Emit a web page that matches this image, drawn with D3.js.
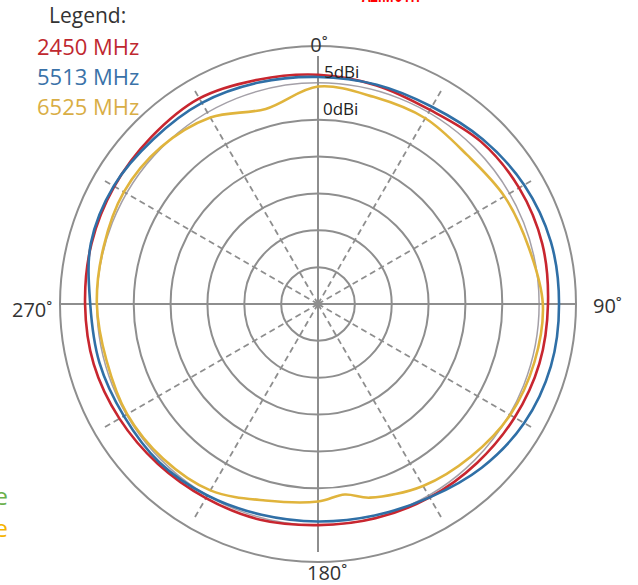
<!DOCTYPE html>
<html>
<head>
<meta charset="utf-8">
<script src="https://cdn.jsdelivr.net/npm/d3@7"></script>
<style>
  body { margin: 0; background: #fff; }
  svg text { font-family: "Open Sans", sans-serif; }
</style>
</head>
<body>
<div id="chart"></div>
<script>
// gain in dBi, angle in degrees clockwise from top
const anglesRed = [0, 15, 30, 45, 60, 75, 90, 105, 120, 135, 150, 165, 180, 195, 210, 225, 240, 255, 270, 285, 300, 315, 330, 345];
const gainRed = [6.1, 5.7, 5.4, 6.2, 6.5, 6.5, 6.2, 6.1, 5.8, 5.5, 5.3, 5.1, 5.0, 5.3, 5.4, 5.7, 6.1, 6.5, 6.6, 6.8, 6.9, 7.0, 7.2, 6.5];

const anglesBlue = [0, 15, 30, 45, 60, 75, 90, 105, 120, 135, 150, 165, 180, 195, 210, 225, 240, 255, 270, 285, 300, 315, 330, 345];
const gainBlue = [5.8, 5.8, 5.9, 6.6, 7.3, 7.7, 7.7, 7.7, 7.3, 6.4, 5.3, 4.7, 4.5, 4.6, 5.0, 5.4, 5.4, 5.7, 5.9, 6.9, 7.0, 6.6, 6.5, 6.1];

const anglesYellow = [0, 15, 30, 45, 60, 75, 90, 105, 120, 135, 150, 165, 172, 180, 195, 210, 225, 240, 255, 270, 285, 300, 315, 330, 345];
const gainYellow = [4.5, 4.1, 4.1, 3.6, 4.2, 4.6, 5.5, 5.4, 5.1, 4.3, 3.5, 2.2, 1.1, 1.8, 2.6, 4.2, 4.7, 4.9, 4.7, 5.0, 5.1, 5.4, 5.1, 4.2, 2.4];

const seriesNames = ["2450 MHz", "5513 MHz", "6525 MHz"];
const seriesColors = ["#c8262f", "#2f6fa6", "#e0b43c"];
const legendColors = ["#c0282f", "#3a72a8", "#d9ae45"];

const ringLevels = [-20, -15, -10, -5, 0, 5, 10];
const spokeAngles = [30, 60, 120, 150, 210, 240, 300, 330];
const axisLabels = [
  { text: "0˚", x: 319, y: 52, anchor: "middle" },
  { text: "90˚", x: 593, y: 313, anchor: "start" },
  { text: "180˚", x: 307, y: 580, anchor: "start" },
  { text: "270˚", x: 12, y: 317, anchor: "start" }
];

const width = 638, height = 585;
const cx = 318, cy = 304;

const svg = d3.select("#chart").append("svg")
  .attr("width", width)
  .attr("height", height);

const r = d3.scaleLinear().domain([-25, 10]).range([0, 258]);

const g = svg.append("g").attr("transform", `translate(${cx},${cy})`);

// rings
g.selectAll("circle.ring")
  .data(ringLevels)
  .join("circle")
  .attr("class", "ring")
  .attr("r", d => r(d))
  .attr("fill", "none")
  .attr("stroke", d => d === 5 ? "#a4a0a8" : "#8e8e8e")
  .attr("stroke-width", d => d === 5 ? 1.5 : 2);

// dashed spokes
g.selectAll("line.spoke")
  .data(spokeAngles)
  .join("line")
  .attr("class", "spoke")
  .attr("x1", 0).attr("y1", 0)
  .attr("x2", d => Math.sin(d * Math.PI / 180) * 250)
  .attr("y2", d => -Math.cos(d * Math.PI / 180) * 250)
  .attr("stroke", "#8e8e8e")
  .attr("stroke-width", 1.8)
  .attr("stroke-dasharray", "6,4");

// main axes
g.append("line")
  .attr("x1", -r(10)).attr("x2", r(10)).attr("y1", 0).attr("y2", 0)
  .attr("stroke", "#8e8e8e").attr("stroke-width", 2);
g.append("line")
  .attr("x1", 0).attr("x2", 0).attr("y1", -248).attr("y2", 248)
  .attr("stroke", "#8e8e8e").attr("stroke-width", 2);

// curves
const line = d3.lineRadial()
  .angle(d => d[0] * Math.PI / 180)
  .radius(d => r(d[1]))
  .curve(d3.curveCatmullRomClosed.alpha(0.5));

const series = [
  d3.zip(anglesRed, gainRed),
  d3.zip(anglesBlue, gainBlue),
  d3.zip(anglesYellow, gainYellow)
];

g.selectAll("path.curve")
  .data(series)
  .join("path")
  .attr("class", "curve")
  .attr("d", d => line(d))
  .attr("fill", "none")
  .attr("stroke", (d, i) => seriesColors[i])
  .attr("stroke-width", 2.6);

// dBi labels
g.append("text").text("5dBi")
  .attr("x", 6).attr("y", 78 - cy)
  .style("font-size", "17px").style("fill", "#222");
g.append("text").text("0dBi")
  .attr("x", 5).attr("y", 115 - cy)
  .style("font-size", "17px").style("fill", "#222");

// angle labels
svg.selectAll("text.axis")
  .data(axisLabels)
  .join("text")
  .attr("class", "axis")
  .attr("x", d => d.x)
  .attr("y", d => d.y)
  .attr("text-anchor", d => d.anchor)
  .style("font-size", "20px")
  .style("fill", "#333")
  .text(d => d.text);

// legend
svg.append("text").text("Legend:")
  .attr("x", 49).attr("y", 23)
  .style("font-size", "21px").style("fill", "#333");

svg.selectAll("text.leg")
  .data(seriesNames)
  .join("text")
  .attr("class", "leg")
  .attr("x", 37)
  .attr("y", (d, i) => 55 + i * 30)
  .style("font-size", "22px")
  .style("fill", (d, i) => legendColors[i])
  .text(d => d);

// clipped bits at the edges of the original picture
svg.append("text").text("AZIMUTH")
  .attr("x", 362).attr("y", 2)
  .attr("textLength", 58).attr("lengthAdjust", "spacingAndGlyphs")
  .style("font-size", "26px").style("font-weight", "bold").style("fill", "#ff0000");

svg.append("text").text("Free space")
  .attr("x", 8).attr("y", 505)
  .attr("text-anchor", "end")
  .style("font-size", "24px").style("fill", "#6ab04c");
svg.append("text").text("Surface")
  .attr("x", 8).attr("y", 537)
  .attr("text-anchor", "end")
  .style("font-size", "24px").style("fill", "#f5b400");
</script>
</body>
</html>
